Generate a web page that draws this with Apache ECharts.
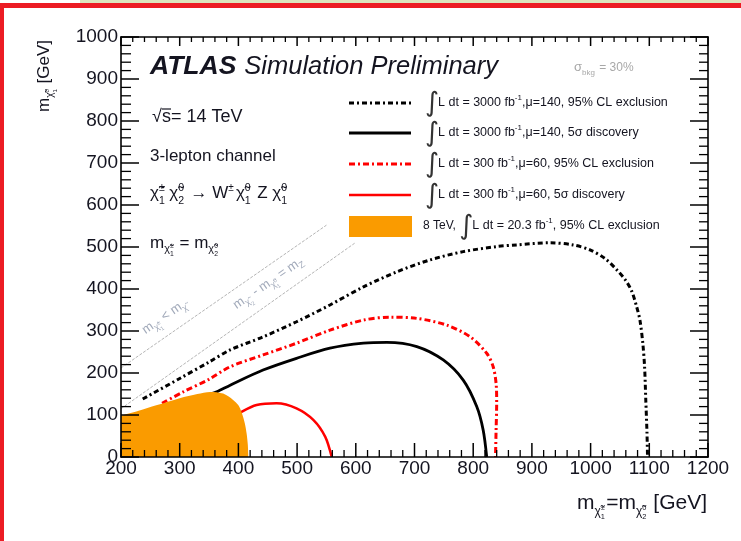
<!DOCTYPE html>
<html>
<head>
<meta charset="utf-8">
<script src="https://cdn.jsdelivr.net/npm/echarts@6/dist/echarts.min.js"></script>
<style>
  html, body { margin: 0; padding: 0; background: #fff; }
  #chart { width: 741px; height: 541px; }
</style>
</head>
<body>
<div id="chart"></div>
<script>
// Axis ranges and tick marks (GeV)
const xRange = [200, 1200];
const yRange = [0, 1000];
const tickStep = 100;
const minorStep = 20;
const xTicks = [200, 300, 400, 500, 600, 700, 800, 900, 1000, 1100, 1200];
const yTicks = [0, 100, 200, 300, 400, 500, 600, 700, 800, 900, 1000];

// Contours: [m(chi1+-)=m(chi2^0), m(chi1^0)] in GeV
const excl3000 = [[237,138],[300,187],[350,226],[386,255],[442,286],[499,322],[556,362],[613,405],[670,441],[726,469],[783,489],[840,501],[874,505],[931,510],[970,505],[999,493],[1025,472],[1045,445],[1060,420],[1070,395],[1078,360],[1084,326],[1089,270],[1092,214],[1094,136],[1096,60],[1097,0]];
const disc3000 = [[345,146],[363,155],[386,171],[442,207],[499,235],[556,259],[613,271],[653,273],[704,263],[749,231],[783,183],[806,120],[817,64],[823,0]];
const excl300 = [[270,128],[306,155],[350,185],[386,215],[442,243],[499,271],[556,302],[613,326],[658,333],[704,330],[755,314],[795,286],[823,247],[834,215],[839,175],[840,130],[839,64],[838,0]];
const disc300 = [[395,96],[406,108],[431,124],[465,128],[499,116],[528,88],[548,48],[559,0]];
const excl8TeV = [[200,98],[230,110],[260,123],[300,140],[330,150],[352,155],[374,151],[391,136],[400,123],[406,104],[411,80],[414,56],[416,30],[417,0]];
// Kinematic boundaries
const kinDegenerate = [[200,212],[550,552]];
const kinZ = [[200,115],[598,509]];

const FONT = "'Liberation Sans', Arial, Helvetica, sans-serif";
const INK = '#141420';
const meas = document.createElement('canvas').getContext('2d');
function fontOf(p) {
  return (p.it ? 'italic ' : '') + (p.b ? 'bold ' : '') + p.s + 'px ' + (p.f || FONT);
}
function textWidth(t, font) { meas.font = font; return meas.measureText(t).width; }

// Lay out a run of text pieces along a common baseline (with sub/superscripts)
function formula(x, y, parts, opt) {
  opt = opt || {};
  let cx = 0;
  const children = [];
  parts.forEach(p => {
    const font = fontOf(p);
    const w = textWidth(p.t, font);
    children.push({
      type: 'text', silent: true,
      x: cx + (p.dx || 0), y: (p.dy || 0) - 0.35 * p.s,
      style: { text: p.t, font: font, fill: p.c || opt.color || INK,
               align: 'left', textAlign: 'left', verticalAlign: 'middle', textVerticalAlign: 'middle' }
    });
    if (p.adv !== false) cx += w + (p.gap || 0);
  });
  return { type: 'group', x: x, y: y, rotation: opt.rot || 0, scaleX: opt.sx || 1, children: children };
}
// chi-tilde with a superscript charge and a subscript index
function chi(sub, sup, s, dy, c) {
  dy = dy || 0;
  const k = 0.62;
  return [
    { t: 'χ̃', s: s, dy: dy, c: c },
    { t: sup, s: s * k, dy: dy - s * 0.42, adv: false, c: c },
    { t: sub, s: s * k, dy: dy + s * 0.32, c: c, gap: s * 0.1 }
  ];
}

const graphics = [];
// slide frame
graphics.push({ type: 'rect', shape: { x: 80, y: 0, width: 661, height: 3 }, style: { fill: '#dde4bd' }, silent: true });
graphics.push({ type: 'rect', shape: { x: 0, y: 3, width: 741, height: 5 }, style: { fill: '#ec1c24' }, silent: true });
graphics.push({ type: 'rect', shape: { x: 0, y: 3, width: 4, height: 538 }, style: { fill: '#ec1c24' }, silent: true });

// headline and conditions
graphics.push(formula(150, 76, [
  { t: 'ATLAS', s: 26.5, b: true, it: true, gap: 8 },
  { t: 'Simulation Preliminary', s: 25.5, it: true }
]));
graphics.push(formula(574, 72, [
  { t: 'σ', s: 13, c: '#a8a8a8' }, { t: 'bkg', s: 8, dy: 4, c: '#a8a8a8', gap: 1 }, { t: ' = 30%', s: 12, c: '#a8a8a8' }
]));
graphics.push(formula(152, 123, [{ t: '√s', s: 18 }, { t: '= 14 TeV', s: 18 }]));
graphics.push({ type: 'line', shape: { x1: 162, y1: 109, x2: 171, y2: 109 }, style: { stroke: INK, lineWidth: 1.2 }, silent: true });
graphics.push(formula(150, 162, [{ t: '3-lepton channel', s: 17 }]));
graphics.push(formula(150, 199, [].concat(
  chi('1', '±', 17), [{ t: ' ', s: 10 }], chi('2', '0', 17),
  [{ t: ' → ', s: 17 }, { t: 'W', s: 17 }, { t: '±', s: 10, dy: -7 }, { t: ' ', s: 8 }],
  chi('1', '0', 17), [{ t: ' Z ', s: 17 }], chi('1', '0', 17)
)));
graphics.push(formula(150, 249, [].concat(
  [{ t: 'm', s: 17 }], chi('1', '±', 11, 4), [{ t: ' = ', s: 17 }, { t: 'm', s: 17 }], chi('2', '0', 11, 4)
)));

// labels along the kinematic boundaries
const grayTxt = '#a3abbb';
graphics.push(formula(146, 335, [].concat(
  [{ t: 'm', s: 13, c: grayTxt }], chi('1', '±', 9, 3, grayTxt), [{ t: ' < m', s: 13, c: grayTxt }], chi('', '', 9, 3, grayTxt)
), { rot: 0.6 }));
graphics.push(formula(237, 310, [].concat(
  [{ t: 'm', s: 13, c: grayTxt }], chi('2', '', 9, 3, grayTxt), [{ t: ' - m', s: 13, c: grayTxt }], chi('1', '0', 9, 3, grayTxt),
  [{ t: ' = m', s: 13, c: grayTxt }, { t: 'Z', s: 9, dy: 3, c: grayTxt }]
), { rot: 0.6 }));

// axis titles
graphics.push(formula(577, 511, [].concat(
  [{ t: 'm', s: 21 }], chi('1', '±', 12, 5), [{ t: '=m', s: 21 }], chi('2', '0', 12, 5), [{ t: ' [GeV]', s: 21 }]
)));
graphics.push(formula(50, 112, [].concat(
  [{ t: 'm', s: 17 }], chi('1', '0', 10, 4), [{ t: ' [GeV]', s: 17 }]
), { rot: Math.PI / 2 }));

// legend
const legendRows = [
  { y: 103, kind: 'excl3000', pre: '', lumi: '3000', tail: ',μ=140, 95% CL exclusion' },
  { y: 133, kind: 'disc3000', pre: '', lumi: '3000', tail: ',μ=140, 5σ discovery' },
  { y: 164, kind: 'excl300', pre: '', lumi: '300', tail: ',μ=60, 95% CL exclusion' },
  { y: 195, kind: 'disc300', pre: '', lumi: '300', tail: ',μ=60, 5σ discovery' },
  { y: 226, kind: 'excl8', pre: '8 TeV, ', lumi: '20.3', tail: ', 95% CL exclusion' }
];
const legendLine = {
  excl3000: { stroke: '#000', lineWidth: 3, lineDash: [5, 3, 2, 3] },
  disc3000: { stroke: '#000', lineWidth: 3 },
  excl300: { stroke: '#ff0000', lineWidth: 3, lineDash: [6, 3, 2, 3] },
  disc300: { stroke: '#ff0000', lineWidth: 2.5 }
};
legendRows.forEach(r => {
  if (r.kind === 'excl8') {
    graphics.push({ type: 'rect', shape: { x: 349, y: r.y - 10, width: 63, height: 21 }, style: { fill: '#fa9b00' }, silent: true });
  } else {
    graphics.push({ type: 'line', shape: { x1: 349, y1: r.y, x2: 411, y2: r.y }, style: legendLine[r.kind], silent: true });
  }
  const parts = [];
  if (r.pre) parts.push({ t: r.pre, s: 12 });
  parts.push({ t: '∫', s: 27, f: "'DejaVu Sans'", dy: 6, c: '#333', gap: -1 });
  parts.push({ t: 'L dt = ' + r.lumi + ' fb', s: 12.5 });
  parts.push({ t: '-1', s: 8, dy: -6 });
  parts.push({ t: r.tail, s: 12.5 });
  graphics.push(formula(r.pre ? 423 : 425, r.y + 4, parts));
});

// Frame ticks on all four sides: [x, y, kind] (0 x-major, 1 x-minor, 2 y-major, 3 y-minor)
const tickData = [];
function addTicks(major, isX) {
  for (let i = 0; i < major.length; i++) {
    const v = major[i];
    tickData.push(isX ? [v, yRange[0], 0] : [xRange[0], v, 2]);
    if (i + 1 < major.length) {
      for (let m = v + minorStep; m < major[i + 1]; m += minorStep) {
        tickData.push(isX ? [m, yRange[0], 1] : [xRange[0], m, 3]);
      }
    }
  }
}
addTicks(xTicks, true);
addTicks(yTicks, false);
const tickLen = { 0: [14, 9], 1: [7, 5], 2: [18, 18], 3: [10, 9] };
function renderTick(params, api) {
  const kind = api.value(2);
  const len = tickLen[kind];
  const st = { stroke: '#000', lineWidth: kind % 2 === 0 ? 1.5 : 1.3 };
  if (kind < 2) {
    const b = api.coord([api.value(0), yRange[0]]);
    const t = api.coord([api.value(0), yRange[1]]);
    return { type: 'group', children: [
      { type: 'line', shape: { x1: b[0], y1: b[1], x2: b[0], y2: b[1] - len[0] }, style: st },
      { type: 'line', shape: { x1: t[0], y1: t[1], x2: t[0], y2: t[1] + len[1] }, style: st }
    ] };
  }
  const l = api.coord([xRange[0], api.value(1)]);
  const r = api.coord([xRange[1], api.value(1)]);
  return { type: 'group', children: [
    { type: 'line', shape: { x1: l[0], y1: l[1], x2: l[0] + len[0], y2: l[1] }, style: st },
    { type: 'line', shape: { x1: r[0], y1: r[1], x2: r[0] - len[1], y2: r[1] }, style: st }
  ] };
}

const axisCommon = {
  type: 'value', z: 10,
  splitLine: { show: false },
  axisTick: { show: false },
  minorTick: { show: false },
  axisLine: { show: true, onZero: false, lineStyle: { color: '#000', width: 1.6 } }
};
const labelStyle = { fontSize: 19, fontFamily: 'Liberation Sans', color: INK, formatter: v => String(v) };

const chart = echarts.init(document.getElementById('chart'), null, { renderer: 'canvas' });
chart.setOption({
  backgroundColor: '#fff',
  animation: false,
  grid: { left: 121, top: 37, width: 587, height: 420 },
  xAxis: [
    Object.assign({}, axisCommon, {
      position: 'bottom', min: xRange[0], max: xRange[1], interval: tickStep,
      axisLabel: Object.assign({ show: true, margin: 2 }, labelStyle)
    }),
    Object.assign({}, axisCommon, {
      position: 'top', min: xRange[0], max: xRange[1], interval: tickStep,
      axisLabel: { show: false }
    })
  ],
  yAxis: [
    Object.assign({}, axisCommon, {
      position: 'left', min: yRange[0], max: yRange[1], interval: tickStep,
      axisLabel: Object.assign({ show: true, margin: 3 }, labelStyle)
    }),
    Object.assign({}, axisCommon, {
      position: 'right', min: yRange[0], max: yRange[1], interval: tickStep,
      axisLabel: { show: false }
    })
  ],
  series: [
    { name: 'kin1', type: 'line', data: kinDegenerate, symbol: 'none', z: 1,
      lineStyle: { color: '#b5b5b5', width: 1, type: [3, 1.5] } },
    { name: 'kin2', type: 'line', data: kinZ, symbol: 'none', z: 1,
      lineStyle: { color: '#b5b5b5', width: 1, type: [3, 1.5] } },
    { name: 'excl3000', type: 'line', data: excl3000, symbol: 'none', smooth: 0.3, z: 2,
      lineStyle: { color: '#000', width: 3, type: [5, 3, 2, 3] } },
    { name: 'excl300', type: 'line', data: excl300, symbol: 'none', smooth: 0.3, z: 2,
      lineStyle: { color: '#ff0000', width: 3, type: [6, 3, 2, 3] } },
    { name: 'disc3000', type: 'line', data: disc3000, symbol: 'none', smooth: 0.3, z: 2,
      lineStyle: { color: '#000', width: 2.8 } },
    { name: 'disc300', type: 'line', data: disc300, symbol: 'none', smooth: 0.3, z: 2,
      lineStyle: { color: '#ff0000', width: 2.5 } },
    { name: 'excl8', type: 'line', data: excl8TeV, symbol: 'none', smooth: 0.3, z: 5,
      lineStyle: { width: 0, color: '#fa9b00' },
      areaStyle: { color: '#fa9b00', opacity: 1, origin: 'start' } },
    { name: 'ticks', type: 'custom', data: tickData, renderItem: renderTick, clip: false, z: 12,
      encode: { x: 0, y: 1 }, silent: true }
  ],
  graphic: { elements: graphics }
});
</script>
</body>
</html>
